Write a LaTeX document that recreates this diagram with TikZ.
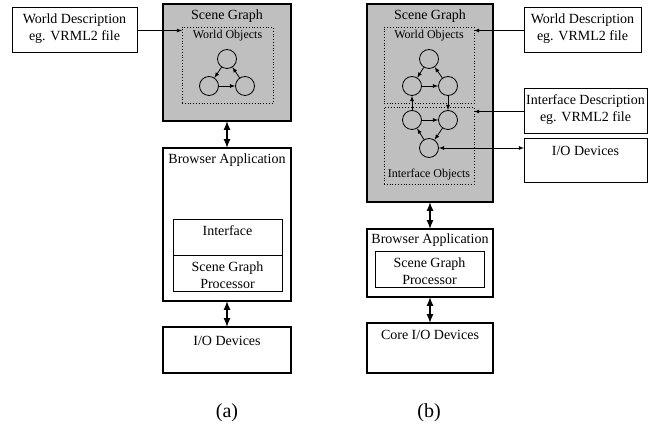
\documentclass[tikz,border=0pt]{standalone}
\usepackage{fontspec}
\setmainfont{Liberation Serif}
\usepackage{tikz}

\tikzset{
    box/.style={draw, line width=1pt, inner sep=0pt, outer sep=0pt},
    bigbox/.style={draw, line width=2pt, inner sep=0pt, outer sep=0pt},
    objbox/.style={draw, dotted, line width=0.8pt, inner sep=0pt, outer sep=0pt},
    obj/.style={draw, circle, line width=0.8pt, minimum size=19pt, inner sep=0pt},
    txt/.style={inner sep=0pt, align=center, font=\fontsize{14}{17}\selectfont},
    smalltxt/.style={inner sep=0pt, font=\fontsize{12}{14}\selectfont},
    captxt/.style={inner sep=0pt, font=\fontsize{20}{24}\selectfont},
    link/.style={-latex, line width=0.8pt},
    biglink/.style={latex-latex, line width=2pt},
}

\begin{document}
\begin{tikzpicture}[x=1pt, y=-1pt]
    \useasboundingbox (0,0) rectangle (653,427);

    % (a)
    \node[box, minimum width=125pt, minimum height=45pt] (wdA) at (74.5,30.5) {};
    \node[txt] (wdAt) at (74.5,29) {World Description\\eg. VRML2 file};

    \node[bigbox, fill=black!25, minimum width=128pt, minimum height=117pt] (sgA) at (227,62.5) {};
    \node[txt] (sgAt) at (227,16) {Scene Graph};
    \node[objbox, minimum width=91pt, minimum height=76pt] (woA) at (227.5,65) {};
    \node[smalltxt] (woAt) at (227.5,36) {World Objects};

    \node[obj] (a1) at (227,59) {};
    \node[obj] (a2) at (209,86) {};
    \node[obj] (a3) at (245,86) {};
    \draw[link] (a1) -- (a2);
    \draw[link] (a2) -- (a3);
    \draw[link] (a3) -- (a1);

    \draw[link] (wdA.east) -- (wdA.east -| woA.west);

    \node[bigbox, minimum width=128pt, minimum height=153pt] (baA) at (227,224.5) {};
    \node[txt] (baAt) at (227,160) {Browser Application};
    \node[box, minimum width=109pt, minimum height=36pt] (ifA) at (227.5,238) {};
    \node[txt] (ifAt) at (227.5,231) {Interface};
    \node[box, minimum width=109pt, minimum height=36pt] (sgpA) at (227.5,274) {};
    \node[txt] (sgpAt) at (227.5,275) {Scene Graph\\Processor};

    \node[bigbox, minimum width=128pt, minimum height=46pt] (ioA) at (227,350) {};
    \node[txt] (ioAt) at (227,341) {I/O Devices};

    \draw[biglink] (sgA.south) -- (baA.north);
    \draw[biglink] (baA.south) -- (ioA.north);

    \node[captxt] (capA) at (227,413) {(a)};

    % (b)
    \node[bigbox, fill=black!25, minimum width=126pt, minimum height=198pt] (sgB) at (430,103) {};
    \node[txt] (sgBt) at (430,16) {Scene Graph};
    \node[objbox, minimum width=90pt, minimum height=76pt] (woB) at (429,65) {};
    \node[smalltxt] (woBt) at (429,36) {World Objects};
    \node[objbox, minimum width=90pt, minimum height=77pt] (ioB) at (429,145.5) {};
    \node[smalltxt] (ioBt) at (429,175) {Interface Objects};

    \node[obj] (t) at (429,59) {};
    \node[obj] (ml) at (412,86) {};
    \node[obj] (mr) at (448,86) {};
    \node[obj] (ll) at (412,120) {};
    \node[obj] (lr) at (448,120) {};
    \node[obj] (bt) at (429,148) {};
    \draw[link] (t) -- (ml);
    \draw[link] (mr) -- (t);
    \draw[link] (ml) -- (mr);
    \draw[link] (mr) -- (lr);
    \draw[link] (ll) -- (ml);
    \draw[link] (ll) -- (lr);
    \draw[link] (lr) -- (bt);
    \draw[link] (bt) -- (ll);

    \node[box, minimum width=117pt, minimum height=45pt] (wdB) at (582.5,30.5) {};
    \node[txt] (wdBt) at (582.5,29) {World Description\\eg. VRML2 file};
    \node[box, minimum width=123pt, minimum height=45pt] (idB) at (585.5,111.5) {};
    \node[txt] (idBt) at (585.5,110) {Interface Description\\eg. VRML2 file};
    \node[box, minimum width=123pt, minimum height=44pt] (iodB) at (585.5,161) {};
    \node[txt] (iodBt) at (585.5,151) {I/O Devices};

    \draw[link] (wdB.west) -- (wdB.west -| woB.east);
    \draw[link] (idB.west) -- (idB.west -| ioB.east);
    \draw[latex-latex, line width=0.8pt] (bt) -- (bt -| iodB.west);

    \node[bigbox, minimum width=126pt, minimum height=68pt] (baB) at (430,263) {};
    \node[txt] (baBt) at (430,240) {Browser Application};
    \node[box, minimum width=109pt, minimum height=36pt] (sgpB) at (429.5,270) {};
    \node[txt] (sgpBt) at (429.5,271) {Scene Graph\\Processor};

    \node[bigbox, minimum width=126pt, minimum height=50pt] (cioB) at (430,348) {};
    \node[txt] (cioBt) at (430,335) {Core I/O Devices};

    \draw[biglink] (sgB.south) -- (baB.north);
    \draw[biglink] (baB.south) -- (cioB.north);

    \node[captxt] (capB) at (429,413) {(b)};
\end{tikzpicture}
\end{document}
